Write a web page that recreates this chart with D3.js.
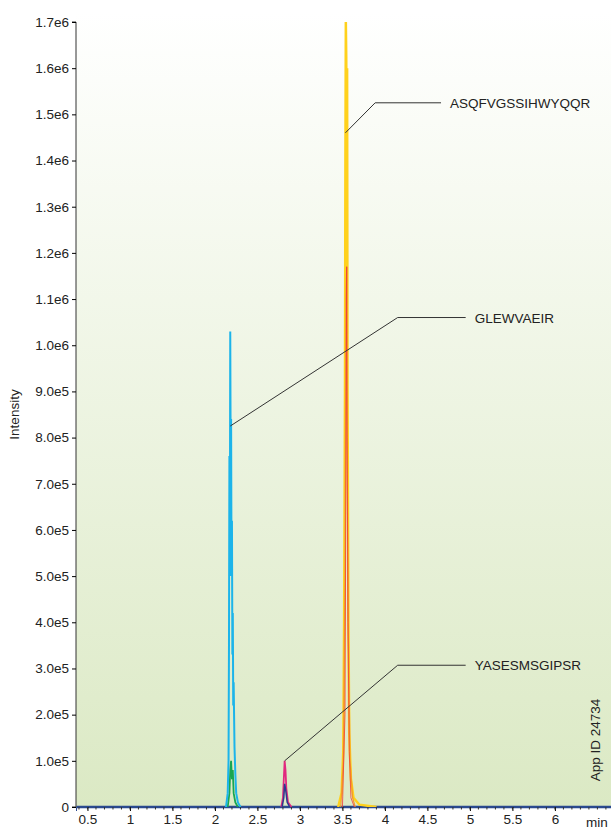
<!DOCTYPE html>
<html><head><meta charset="utf-8">
<script src="https://cdn.jsdelivr.net/npm/d3@7"></script>
<style>body{margin:0;background:#fff;font-family:"Liberation Sans",Arial,sans-serif}</style>
</head><body><div class="chart"></div>
<script>
// x ticks and y ticks
const xTicks = [0.5,1,1.5,2,2.5,3,3.5,4,4.5,5,5.5,6];
const yTicks = [0,1e5,2e5,3e5,4e5,5e5,6e5,7e5,8e5,9e5,1e6,1.1e6,1.2e6,1.3e6,1.4e6,1.5e6,1.6e6,1.7e6];
const yTickLabels = ["0","1.0e5","2.0e5","3.0e5","4.0e5","5.0e5","6.0e5","7.0e5","8.0e5","9.0e5","1.0e6","1.1e6","1.2e6","1.3e6","1.4e6","1.5e6","1.6e6","1.7e6"];

// traces: [time, intensity]
const blueTrace = [[2.13,0],[2.15,3e4],[2.16,1e5],[2.165,3.5e5],[2.17,7.6e5],[2.175,5e5],[2.18,1.03e6],[2.185,7.4e5],[2.19,8.4e5],[2.195,5e5],[2.2,6.2e5],[2.205,3.3e5],[2.21,4.2e5],[2.215,2.2e5],[2.22,2.7e5],[2.23,1.3e5],[2.24,7e4],[2.25,3e4],[2.27,1e4],[2.3,0]];
const greenTrace = [[2.15,0],[2.17,3e4],[2.18,8e4],[2.19,1e5],[2.2,6e4],[2.21,8e4],[2.22,3e4],[2.24,1e4],[2.27,0]];
const magentaTrace = [[2.78,0],[2.8,2e4],[2.81,6e4],[2.82,1e5],[2.83,8e4],[2.84,4e4],[2.86,1e4],[2.9,0]];
const navyTrace = [[2.79,0],[2.81,2e4],[2.82,5e4],[2.83,4e4],[2.85,1e4],[2.88,0]];
const yellowTrace = [[3.45,0],[3.49,3e4],[3.51,1.2e5],[3.52,4e5],[3.53,9e5],[3.535,1.4e6],[3.54,1.7e6],[3.545,1.62e6],[3.55,1.3e6],[3.555,1.6e6],[3.56,9e5],[3.57,4e5],[3.58,1.6e5],[3.6,6e4],[3.63,2e4],[3.7,5e3],[3.9,0]];
const orangeTrace = [[3.48,0],[3.51,1e5],[3.53,5e5],[3.54,1.1e6],[3.55,1.17e6],[3.555,7.8e5],[3.56,6.5e5],[3.57,3.7e5],[3.59,1e5],[3.62,2e4],[3.65,0]];
const redTrace = [[3.5,0],[3.53,2e5],[3.545,9e5],[3.55,1.17e6],[3.555,8e5],[3.565,4e5],[3.58,1.2e5],[3.6,2e4],[3.64,0]];
const baseline = [[0.37,0],[6.66,0]];
const traces = [
  {d: baseline, c: "#2b4a8f", w: 2.5},
  {d: greenTrace, c: "#18a650", w: 1.8},
  {d: blueTrace, c: "#1cb4ea", w: 2},
  {d: magentaTrace, c: "#e2287f", w: 1.8},
  {d: navyTrace, c: "#2b3a8f", w: 1.5},
  {d: yellowTrace, c: "#ffd11c", w: 2.5},
  {d: orangeTrace, c: "#f59a2a", w: 1.2},
  {d: redTrace, c: "#ef3b3b", w: 0.8}
];

// labels: anchor point, elbow, end (time, intensity), text
const peakLabels = [
  {name: "ASQFVGSSIHWYQQR", at: [3.535,1.46e6], elbow: [3.885,1.525e6], end: [4.66,1.525e6]},
  {name: "GLEWVAEIR", at: [2.18,8.25e5], elbow: [4.15,1.06e6], end: [4.95,1.06e6]},
  {name: "YASESMSGIPSR", at: [2.82,1e5], elbow: [4.15,3.07e5], end: [4.95,3.07e5]}
];

const W = 611, H = 831;
const m = {l: 76, r: 0, t: 22, b: 24};
const FS = 13.5;
const svg = d3.select(".chart").append("svg").attr("width", W).attr("height", H);

const x = d3.scaleLinear().domain([0.365, 6.66]).range([m.l, W - m.r]);
const y = d3.scaleLinear().domain([0, 1.7e6]).range([H - m.b, m.t]);

const grad = svg.append("defs").append("linearGradient").attr("id", "bg").attr("x1", 0).attr("x2", 0).attr("y1", 0).attr("y2", 1);
grad.append("stop").attr("offset", "0%").attr("stop-color", "#ffffff");
grad.append("stop").attr("offset", "100%").attr("stop-color", "#dbe9c4");
svg.append("rect").attr("x", m.l).attr("y", m.t - 10).attr("width", W - m.l).attr("height", y(0) - m.t + 10).attr("fill", "url(#bg)");

const line = d3.line().x(d => x(d[0])).y(d => y(d[1]));
svg.selectAll(".trace").data(traces).enter().append("path")
  .attr("class", "trace")
  .attr("d", d => line(d.d))
  .attr("fill", "none")
  .attr("stroke", d => d.c)
  .attr("stroke-width", d => d.w);

// leader lines
const lab = svg.selectAll(".lab").data(peakLabels).enter().append("g").attr("class", "lab");
lab.append("path")
  .attr("d", d => line([d.at, d.elbow, d.end]))
  .attr("fill", "none").attr("stroke", "#333").attr("stroke-width", 1);
lab.append("text")
  .attr("x", d => x(d.end[0]) + 9)
  .attr("y", d => y(d.end[1]) + 5)
  .attr("font-size", FS).attr("fill", "#222")
  .text(d => d.name);

// axes
const xAxis = d3.axisBottom(x).tickValues(xTicks).tickFormat(d3.format("")).tickSize(4);
const gx = svg.append("g").attr("transform", `translate(0,${y(0)})`).call(xAxis);
gx.select(".domain").attr("stroke", "#2b4a8f").attr("stroke-width", 1);
gx.selectAll("text").attr("font-size", FS).attr("fill", "#222").attr("font-family", "Liberation Sans, Arial");
const minor = d3.range(4, 67).map(v => v / 10).filter(v => x(v) > m.l);
gx.selectAll(".minor").data(minor).enter().append("line")
  .attr("x1", d => x(d)).attr("x2", d => x(d)).attr("y1", 0).attr("y2", 2.5).attr("stroke", "#333");
svg.append("text").attr("x", 597).attr("y", y(0) + 20).attr("font-size", FS).attr("fill", "#222").attr("text-anchor", "middle").text("min");

const yAxis = d3.axisLeft(y).tickValues(yTicks).tickFormat((d, i) => yTickLabels[i]).tickSize(4);
const gy = svg.append("g").attr("transform", `translate(${m.l},0)`).call(yAxis);
gy.select(".domain").attr("stroke", "#333").attr("d", `M-4,${m.t}H0V${y(0)}H-4`);
gy.selectAll("text").attr("font-size", FS).attr("fill", "#222").attr("font-family", "Liberation Sans, Arial");

svg.append("text").attr("transform", `translate(19,${(m.t + y(0)) / 2}) rotate(-90)`)
  .attr("text-anchor", "middle").attr("font-size", FS).attr("fill", "#222").text("Intensity");
svg.append("text").attr("transform", `translate(600,740) rotate(-90)`)
  .attr("text-anchor", "middle").attr("font-size", FS).attr("fill", "#222").text("App ID 24734");
</script></body></html>
